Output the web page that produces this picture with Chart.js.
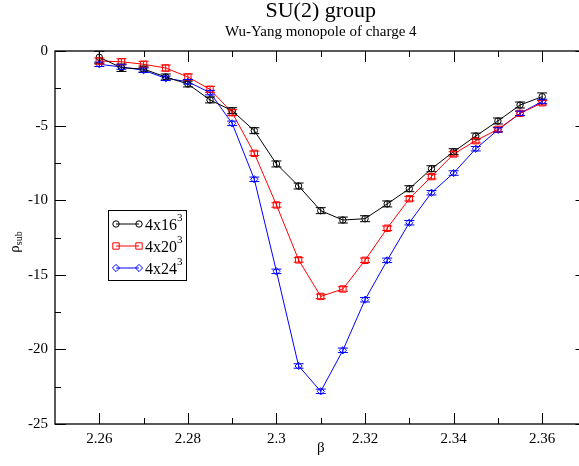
<!DOCTYPE html>
<html>
<head>
<meta charset="utf-8">
<script src="https://cdn.jsdelivr.net/npm/chart.js@4.4.1/dist/chart.umd.min.js"></script>
<style>
  html, body { margin: 0; padding: 0; overflow: hidden; background: #fff; }
  #wrap { width: 579px; height: 466px; overflow: hidden; }
</style>
</head>
<body>
<div id="wrap"><canvas id="chart" width="592" height="466"></canvas></div>
<script>
// values
const beta = [2.26, 2.265, 2.27, 2.275, 2.28, 2.285, 2.29, 2.295, 2.30, 2.305, 2.31,
              2.315, 2.32, 2.325, 2.33, 2.335, 2.34, 2.345, 2.35, 2.355, 2.36];
const rho16 = [-0.42, -1.12, -1.21, -1.74, -2.21, -3.28, -4.0, -5.34, -7.57, -9.05, -10.7,
               -11.33, -11.24, -10.25, -9.23, -7.89, -6.75, -5.7, -4.69, -3.62, -3.06];
const err16 = [0.4, 0.25, 0.2, 0.2, 0.2, 0.2, 0.2, 0.2, 0.2, 0.2, 0.2,
               0.2, 0.2, 0.2, 0.2, 0.2, 0.2, 0.2, 0.2, 0.2, 0.25];
const rho20 = [-0.67, -0.72, -0.89, -1.14, -1.74, -2.57, -4.13, -6.86, -10.32, -14.0, -16.45,
               -15.95, -14.03, -11.88, -9.9, -8.42, -6.9, -6.01, -5.25, -4.18, -3.47];
const err20 = [0.2, 0.2, 0.2, 0.2, 0.2, 0.2, 0.2, 0.15, 0.15, 0.15, 0.15,
               0.15, 0.15, 0.15, 0.15, 0.15, 0.15, 0.15, 0.15, 0.15, 0.15];
const rho24 = [-0.89, -1.07, -1.29, -1.83, -2.06, -2.79, -4.85, -8.6, -14.77, -21.11, -22.81,
               -20.06, -16.67, -14.03, -11.51, -9.5, -8.18, -6.55, -5.29, -4.18, -3.38];
const err24 = [0.15, 0.15, 0.15, 0.15, 0.15, 0.15, 0.15, 0.15, 0.15, 0.15, 0.15,
               0.15, 0.15, 0.15, 0.15, 0.15, 0.15, 0.15, 0.15, 0.15, 0.15];
const seriesNames = ['4x16', '4x20', '4x24'];
const xTicks = [2.26, 2.28, 2.30, 2.32, 2.34, 2.36];
const xMinor = [2.27, 2.29, 2.31, 2.33, 2.35];
const yTicks = [0, -5, -10, -15, -20, -25];
const yMinor = [-2.5, -7.5, -12.5, -17.5, -22.5];

const serif = "'Liberation Serif', 'DejaVu Serif', serif";
const colors = ['#000000', '#ff0000', '#0000ff'];
const styles = ['circle', 'rect', 'rectRot'];
const radii = [3.2, 4.5, 3.6];
const errs = [err16, err20, err24];

function makeSet(i, vals) {
    return {
        label: seriesNames[i],
        data: beta.map((b, k) => ({ x: b, y: vals[k] })),
        borderColor: colors[i],
        borderWidth: 1,
        pointStyle: styles[i],
        pointRadius: radii[i],
        pointBorderWidth: 1,
        pointBorderColor: colors[i],
        pointBackgroundColor: 'rgba(0,0,0,0)',
        tension: 0,
        fill: false
    };
}

// error bars, frame with inward ticks, legend box and y label
const extras = {
    id: 'extras',
    afterDatasetsDraw(chart) {
        const ctx = chart.ctx;
        const xs = chart.scales.x, ys = chart.scales.y;
        ctx.save();
        ctx.lineWidth = 1;
        chart.data.datasets.forEach((ds, i) => {
            ctx.strokeStyle = colors[i];
            ds.data.forEach((p, k) => {
                const x = xs.getPixelForValue(p.x);
                const y1 = ys.getPixelForValue(p.y - errs[i][k]);
                const y2 = ys.getPixelForValue(p.y + errs[i][k]);
                ctx.beginPath();
                ctx.moveTo(x, y1); ctx.lineTo(x, y2);
                ctx.moveTo(x - 5, y1); ctx.lineTo(x + 5, y1);
                ctx.moveTo(x - 5, y2); ctx.lineTo(x + 5, y2);
                ctx.stroke();
            });
        });
        ctx.restore();
    },
    afterDraw(chart) {
        const ctx = chart.ctx;
        const a = chart.chartArea;
        const xs = chart.scales.x, ys = chart.scales.y;
        ctx.save();
        ctx.strokeStyle = '#000';
        ctx.lineWidth = 1.3;
        ctx.strokeRect(a.left, a.top, a.right - a.left, a.bottom - a.top);
        ctx.lineWidth = 1;
        const tick = (v, len, horiz) => {
            ctx.beginPath();
            if (horiz) {
                const x = Math.round(xs.getPixelForValue(v)) + 0.5;
                ctx.moveTo(x, a.bottom); ctx.lineTo(x, a.bottom - len);
                ctx.moveTo(x, a.top); ctx.lineTo(x, a.top + len);
            } else {
                const y = Math.round(ys.getPixelForValue(v)) + 0.5;
                ctx.moveTo(a.left, y); ctx.lineTo(a.left + len, y);
                ctx.moveTo(a.right, y); ctx.lineTo(a.right - len, y);
            }
            ctx.stroke();
        };
        xTicks.forEach(v => tick(v, 11, true));
        xMinor.forEach(v => tick(v, 6, true));
        yTicks.forEach(v => tick(v, 11, false));
        yMinor.forEach(v => tick(v, 6, false));

        // y axis title: rho with subscript
        ctx.fillStyle = '#000';
        ctx.translate(15, 242);
        ctx.rotate(-Math.PI / 2);
        ctx.textBaseline = 'alphabetic';
        ctx.font = '15px ' + serif;
        const w1 = ctx.measureText('\u03c1').width;
        ctx.font = '10px ' + serif;
        const w2 = ctx.measureText('sub').width;
        const x0 = -(w1 + w2) / 2;
        ctx.font = '15px ' + serif;
        ctx.fillText('\u03c1', x0, 4);
        ctx.font = '10px ' + serif;
        ctx.fillText('sub', x0 + w1, 7);
        ctx.setTransform(1, 0, 0, 1, 0, 0);

        // legend box
        const lx = 108, ly = 210, lw = 78, lh = 70;
        ctx.fillStyle = '#fff';
        ctx.fillRect(lx, ly, lw, lh);
        ctx.lineWidth = 1;
        ctx.strokeStyle = '#000';
        ctx.strokeRect(lx + 0.5, ly + 0.5, lw, lh);
        const rows = [224, 246, 268];
        chart.data.datasets.forEach((ds, i) => {
            const y = rows[i];
            ctx.strokeStyle = colors[i];
            ctx.beginPath();
            ctx.moveTo(116, y); ctx.lineTo(139, y);
            ctx.stroke();
            [116, 139].forEach(px => {
                ctx.fillStyle = 'rgba(0,0,0,0)';
                Chart.helpers.drawPoint(ctx, {
                    pointStyle: styles[i], radius: radii[i], borderWidth: 1, rotation: 0
                }, px, y);
            });
            ctx.fillStyle = '#000';
            ctx.font = '16px ' + serif;
            ctx.textBaseline = 'alphabetic';
            ctx.fillText(seriesNames[i], 145, y + 6);
            const tw = ctx.measureText(seriesNames[i]).width;
            ctx.font = '11px ' + serif;
            ctx.fillText('3', 145 + tw, y - 3);
        });
        ctx.restore();
    }
};

new Chart(document.getElementById('chart').getContext('2d'), {
    type: 'line',
    data: {
        datasets: [makeSet(0, rho16), makeSet(1, rho20), makeSet(2, rho24)]
    },
    options: {
        responsive: false,
        animation: false,
        layout: { padding: { left: 0, right: 4, top: 0, bottom: 0 } },
        plugins: {
            legend: { display: false },
            tooltip: { enabled: false },
            title: {
                display: true,
                text: 'SU(2) group',
                fullSize: false,
                color: '#000',
                font: { family: serif, size: 22, weight: 'normal', lineHeight: 1 },
                padding: { top: 0, bottom: 0 }
            },
            subtitle: {
                display: true,
                text: 'Wu-Yang monopole of charge 4',
                fullSize: false,
                color: '#000',
                font: { family: serif, size: 15, weight: 'normal', lineHeight: 1 },
                padding: { top: 3, bottom: 11 }
            }
        },
        scales: {
            x: {
                type: 'linear',
                min: 2.25,
                max: 2.37,
                grid: { display: false, drawTicks: false, tickLength: 0 },
                border: { display: false },
                afterBuildTicks: s => { s.ticks = xTicks.map(v => ({ value: v })); },
                afterFit: s => { s.height = 42; },
                ticks: {
                    color: '#000',
                    padding: 6,
                    maxRotation: 0,
                    font: { family: serif, size: 15 },
                    callback: v => String(+v.toFixed(2))
                },
                title: {
                    display: true,
                    text: '\u03b2',
                    color: '#000',
                    font: { family: serif, size: 15, lineHeight: 1.2 },
                    padding: { top: 0, bottom: 9 }
                }
            },
            y: {
                type: 'linear',
                min: -25,
                max: 0,
                grid: { display: false, drawTicks: false, tickLength: 0 },
                border: { display: false },
                afterBuildTicks: s => { s.ticks = yTicks.map(v => ({ value: v })); },
                afterFit: s => { s.width = 55; },
                ticks: {
                    color: '#000',
                    padding: 7,
                    font: { family: serif, size: 15 },
                    callback: v => String(v)
                }
            }
        }
    },
    plugins: [extras]
});
</script>
</body>
</html>
